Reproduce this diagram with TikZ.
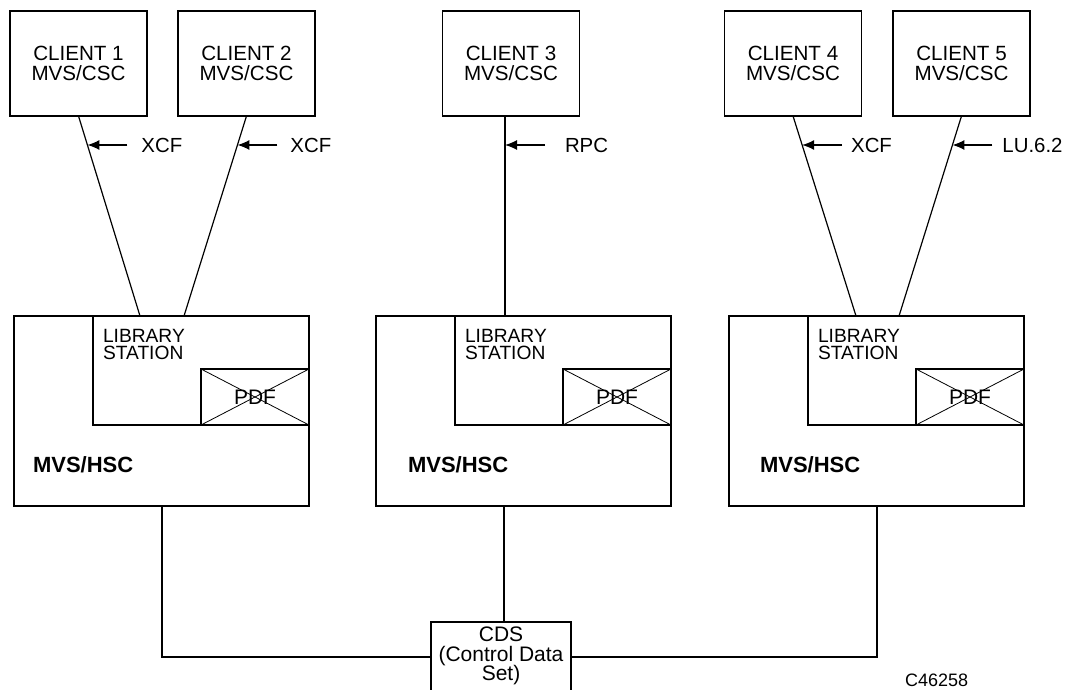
\documentclass[tikz,border=0pt]{standalone}
\usepackage{fontspec}
\setmainfont{Liberation Sans}
\usetikzlibrary{arrows.meta}
\usetikzlibrary{calc}

\begin{document}
\begin{tikzpicture}[x=0.5pt, y=-0.5pt,
  every node/.style={outer sep=0pt, inner sep=0pt},
  client/.style={draw, line width=0.9pt, minimum width=68.5pt, minimum height=52.5pt, align=center, font=\fontsize{10.3}{9.7}\selectfont},
  hscbox/.style={draw, line width=0.9pt, minimum width=147.5pt, minimum height=95pt},
  libbox/.style={draw, line width=0.7pt, minimum width=108pt, minimum height=54.5pt, anchor=north east},
  pdfbox/.style={draw, line width=0.7pt, minimum width=54pt, minimum height=28pt, anchor=south east, font=\fontsize{10.5}{12}\selectfont},
  link/.style={line width=0.6pt},
  proto/.style={anchor=west, font=\fontsize{10.2}{12}\selectfont},
  tip/.style={-{Latex[length=6pt,width=5pt]}, line width=0.6pt}
]

% page size, the CDS box runs off the bottom edge
\useasboundingbox (0,0) rectangle (1068,689);
\clip (0,0) rectangle (1068,689);

% First, the client boxes
\foreach \i/\cx in {1/78.5, 2/246.5, 3/511, 4/793, 5/961.5}
  \node[client] (client\i) at (\cx,63.5) {CLIENT \i\\MVS/CSC};

% The three MVS/HSC boxes, each with a library station and a PDF box
\foreach \s/\hx/\tx/\dx in {1/161.5/19/162, 2/523.5/32/504, 3/876.5/31/877} {
  \node[hscbox] (hsc\s) at (\hx,411) {};
  \node[libbox] (lib\s) at (hsc\s.north east) {};
  \draw[line width=0.4pt] ($(lib\s.south east)+(-108,-56)$) coordinate (pnw\s)
        -- (lib\s.south east) coordinate (pse\s);
  \draw[line width=0.4pt] (pnw\s |- pse\s) -- (pse\s |- pnw\s);
  \node[pdfbox] (pdf\s) at (lib\s.south east) {PDF};
  \node[anchor=north west, align=left, font=\fontsize{9.6}{8.4}\selectfont] (libtxt\s)
        at ($(lib\s.north west)+(10,13)$) {LIBRARY\\STATION};
  \node[anchor=base west, font=\bfseries\fontsize{11}{12}\selectfont] (hsctxt\s)
        at ($(hsc\s.north west)+(\tx,156.7)$) {MVS/HSC};
  \coordinate (out\s) at (hsc\s.south -| \dx,0);
}

% Control data set at the bottom
\node[draw, line width=0.9pt, anchor=north, minimum width=70pt, minimum height=45pt] (cds) at (501,622) {};
\node[anchor=north, align=center, font=\fontsize{10.5}{9.8}\selectfont] (cdstxt)
      at ($(cds.north)+(0,5)$) {CDS\\(Control Data\\Set)};
\coordinate (bus) at (0,657);
\draw[link] (out1) |- (cds.west |- bus);
\draw[link] (out3) |- (cds.east |- bus);
\draw[link] (out2) -- (out2 |- cds.north);

% Client links into the library stations
\foreach \c/\s/\ex in {1/1/140, 2/1/184, 4/3/856, 5/3/899} {
  \coordinate (in\c) at (hsc\s.north -| \ex,0);
  \coordinate (from\c) at (client\c.south);
}
\coordinate (in3) at (505,316);
\coordinate (from3) at (client3.south -| in3);

% Now the links and the protocol arrows
\foreach \c/\txt/\gap in {1/XCF/54, 2/XCF/53, 3/RPC/60, 4/XCF/49, 5/LU.6.2/50} {
  \draw[link] (from\c) -- (in\c);
  \coordinate (t\c) at ($(from\c)!0.145!(in\c)$);
  \node[proto] (proto\c) at ($(t\c)+(\gap,0)$) {\txt};
  \draw[tip] ($(proto\c.west)+({40-\gap},0)$) -- (t\c);
}

\node[anchor=base west, font=\fontsize{9}{10}\selectfont] (figno) at (905,686.7) {C46258};

\end{tikzpicture}
\end{document}
